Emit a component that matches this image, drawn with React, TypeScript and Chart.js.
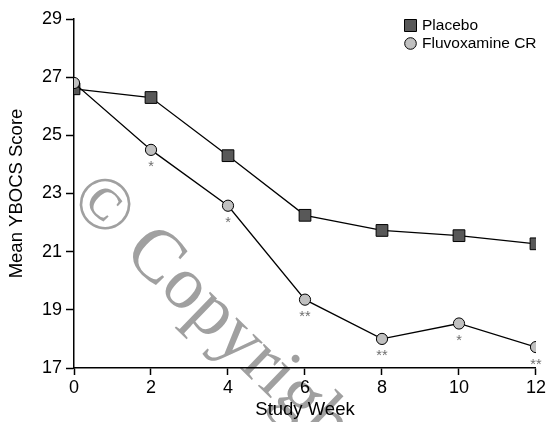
import React, { useEffect, useRef } from "react";
import { Chart, registerables } from "chart.js";

Chart.register(...registerables);

const weeks = [0, 2, 4, 6, 8, 10, 12];
const placebo = [26.6, 26.3, 24.3, 22.25, 21.73, 21.55, 21.27];
const fluvoxamine = [26.8, 24.5, 22.58, 19.35, 18.0, 18.53, 17.72];
const significance = ["", "*", "*", "**", "**", "*", "**"];
const seriesLabels = ["Placebo", "Fluvoxamine CR"];
const xTitle = "Study Week";
const yTitle = "Mean YBOCS Score";
const watermark = "© Copyright";

const FONT = "Arial, 'Liberation Sans', Helvetica, sans-serif";

const annotatePlugin = {
  id: "annotate",
  beforeDraw(chart: any) {
    const ctx = chart.ctx;
    ctx.save();
    ctx.translate(67.5, 202);
    ctx.rotate((44 * Math.PI) / 180);
    ctx.fillStyle = "#a0a0a0";
    ctx.font = "75px 'Liberation Serif', 'Times New Roman', serif";
    ctx.textBaseline = "alphabetic";
    ctx.textAlign = "left";
    ctx.fillText(watermark, 0, 0);
    ctx.restore();
  },
  afterDatasetsDraw(chart: any) {
    const ctx = chart.ctx;
    const xs = chart.scales.x;
    const ys = chart.scales.y;
    ctx.save();
    ctx.fillStyle = "#6e6e6e";
    ctx.font = "14.5px " + FONT;
    ctx.textAlign = "center";
    ctx.textBaseline = "middle";
    fluvoxamine.forEach((v, i) => {
      const s = significance[i];
      if (!s) return;
      ctx.fillText(s, xs.getPixelForValue(weeks[i]), ys.getPixelForValue(v) + 17.5);
    });
    ctx.restore();
  },
  afterDraw(chart: any) {
    const ctx = chart.ctx;
    ctx.save();
    ctx.font = "15.5px " + FONT;
    ctx.textBaseline = "middle";
    ctx.textAlign = "left";
    const lx = 404;
    const rows = [25, 43];
    chart.data.datasets.forEach((ds: any, i: number) => {
      const cy = rows[i];
      ctx.lineWidth = 1;
      ctx.strokeStyle = "#000";
      ctx.fillStyle = ds.pointBackgroundColor;
      if (ds.pointStyle === "rect") {
        ctx.beginPath();
        ctx.rect(lx + 0.5, cy - 5.5, 12, 12);
        ctx.fill();
        ctx.stroke();
      } else {
        ctx.beginPath();
        ctx.arc(lx + 6.5, cy + 0.5, 5.8, 0, Math.PI * 2);
        ctx.fill();
        ctx.stroke();
      }
      ctx.fillStyle = "#000";
      ctx.fillText(ds.label, lx + 18, cy + 1);
    });
    ctx.restore();
  },
};

export default function App() {
  const ref = useRef<HTMLCanvasElement | null>(null);
  useEffect(() => {
    if (!ref.current) return;
    const chart = new Chart(ref.current, {
      type: "line",
      data: {
        datasets: [
          {
            label: seriesLabels[0],
            data: weeks.map((w, i) => ({ x: w, y: placebo[i] })),
            borderColor: "#000",
            borderWidth: 1.3,
            pointStyle: "rect",
            pointRadius: 8.3,
            pointBackgroundColor: "#585858",
            pointBorderColor: "#000",
            pointBorderWidth: 1,
            order: 2,
          },
          {
            label: seriesLabels[1],
            data: weeks.map((w, i) => ({ x: w, y: fluvoxamine[i] })),
            borderColor: "#000",
            borderWidth: 1.3,
            pointStyle: "circle",
            pointRadius: 5.6,
            pointBackgroundColor: "#c0c0c0",
            pointBorderColor: "#000",
            pointBorderWidth: 1,
            order: 1,
          },
        ],
      },
      options: {
        animation: false,
        responsive: false,
        maintainAspectRatio: false,
        layout: { padding: { left: 0, top: 19, right: 11, bottom: 0 } },
        plugins: { legend: { display: false }, tooltip: { enabled: false } },
        scales: {
          x: {
            type: "linear",
            min: 0,
            max: 12,
            afterFit: (s: any) => {
              s.height = 54;
            },
            border: { color: "#000", width: 1.5 },
            grid: { drawOnChartArea: false, tickLength: 7, color: "#000", tickColor: "#000", tickWidth: 1.5 },
            ticks: { stepSize: 2, color: "#000", font: { size: 18, family: FONT }, padding: 2, maxRotation: 0 },
            title: { display: true, text: xTitle, color: "#000", font: { size: 18.5, family: FONT }, padding: { top: 0, bottom: 1 } },
          },
          y: {
            type: "linear",
            min: 17,
            max: 29,
            afterFit: (s: any) => {
              s.width = 74;
            },
            border: { color: "#000", width: 1.5 },
            grid: { drawOnChartArea: false, tickLength: 8, color: "#000", tickColor: "#000", tickWidth: 1.5 },
            ticks: { stepSize: 2, color: "#000", font: { size: 18, family: FONT }, padding: 4 },
            title: { display: true, text: yTitle, color: "#000", font: { size: 18.5, family: FONT }, padding: { top: 6, bottom: 0 } },
          },
        },
      },
      plugins: [annotatePlugin],
    });
    return () => chart.destroy();
  }, []);
  return (
    <div style={{ position: "absolute", left: 0, top: 0, width: 548, height: 422, background: "#fff" }}>
      <canvas ref={ref} width={548} height={422} style={{ width: 548, height: 422 }} />
    </div>
  );
}
